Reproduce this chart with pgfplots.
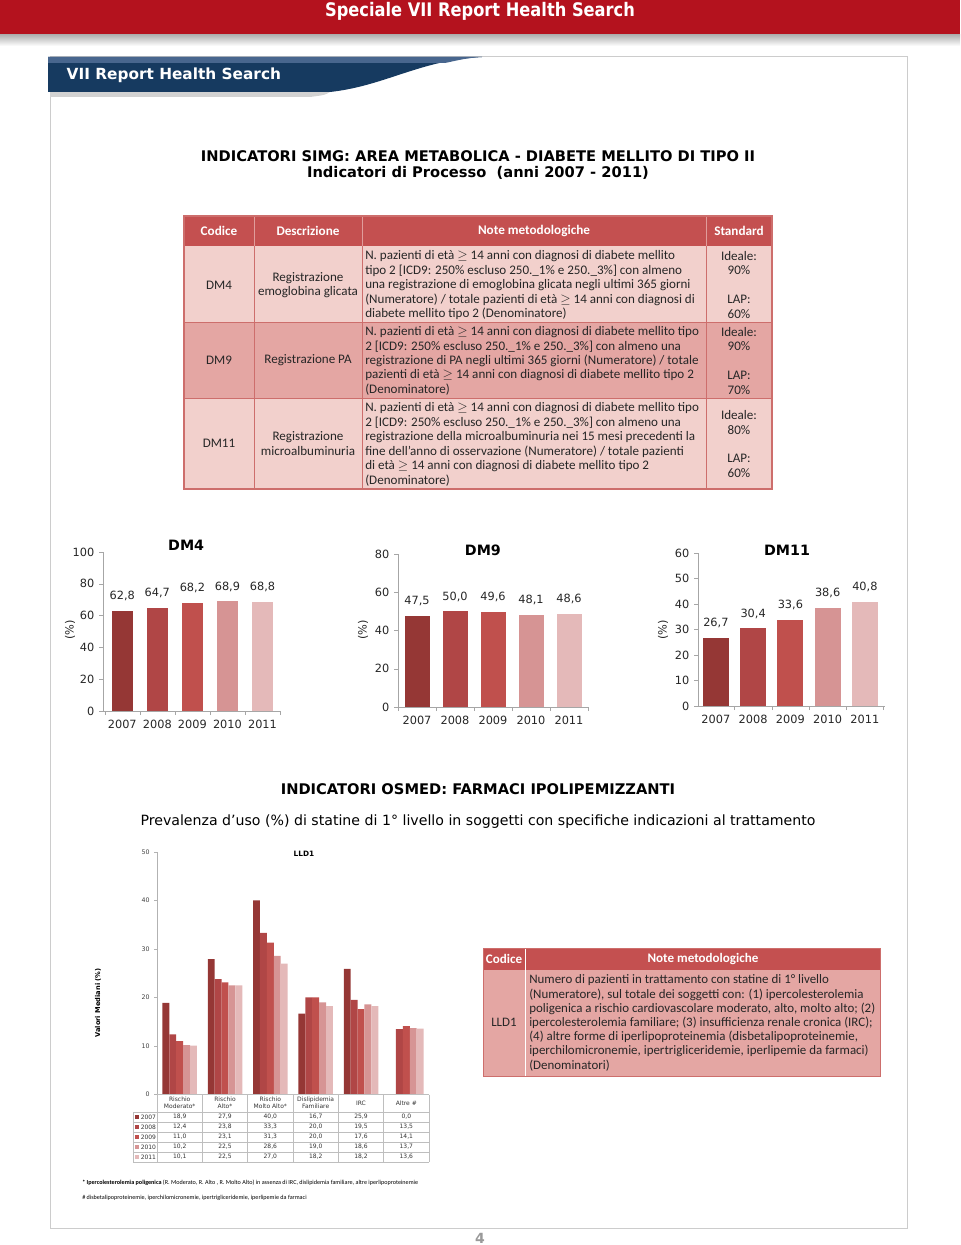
\documentclass[border=0pt]{standalone}
\usepackage{fontspec}
\usepackage{graphicx}
\usepackage{pgfplots}
\pgfplotsset{compat=1.18}
\setmainfont{DejaVu Sans}
\newfontfamily\carl{Carlito}
\definecolor{banner}{RGB}{180,18,30}
\definecolor{tabblue}{RGB}{22,58,96}
\definecolor{tabblueL}{RGB}{72,102,142}
\definecolor{hdr}{RGB}{196,80,80}
\definecolor{rowL}{RGB}{242,208,204}
\definecolor{rowD}{RGB}{228,166,163}
\definecolor{brd}{RGB}{205,110,108}
\definecolor{cA}{RGB}{149,55,53}
\definecolor{cB}{RGB}{176,70,70}
\definecolor{cC}{RGB}{192,80,77}
\definecolor{cD}{RGB}{214,148,148}
\definecolor{cE}{RGB}{228,185,185}
\definecolor{tgray}{RGB}{190,190,190}
\pgfplotsset{
  dm/.style={scale only axis, anchor=south west, ybar, bar shift=0pt,
    ymin=0, axis x line*=bottom, axis y line*=left,
    axis line style={draw=gray!70,-},
    xtick={0,1,2,3,4}, xticklabels={2007,2008,2009,2010,2011},
    major x tick style={draw=none},
    minor xtick={-0.5,0.5,1.5,2.5,3.5,4.5},
    minor x tick style={draw=gray!70},
    minor tick length=3pt, major tick length=3pt,
    tick align=outside, y tick style={draw=gray!70},
    tick label style={font=\fontsize{8.5}{10}\selectfont, text=black!85},
    /pgf/number format/assume math mode=true,
    every axis title/.style={anchor=center, font=\bfseries\fontsize{10.7}{12}\selectfont},
    nodes near coords={\pgfmathprintnumber[fixed,fixed zerofill,precision=1,use comma]{\pgfplotspointmeta}},
    every node near coord/.append style={font=\fontsize{8.5}{10}\selectfont, text=black!85, yshift=4pt},
  }
}
\newcommand\trow[9]{%
  \fill[#2] (135,#1-2) rectangle (139,#1+2);
  \node[anchor=west,inner sep=0pt] at (140.5,#1) {#3};
  \node at (179.7,#1) {#4};
  \node at (225,#1) {#5};
  \node at (270.3,#1) {#6};
  \node at (315.7,#1) {#7};
  \node at (361,#1) {#8};
  \node at (406.3,#1) {#9};}
\begin{document}
\begin{tikzpicture}[x=0.75pt,y=-0.75pt]
\path[use as bounding box] (0,0) rectangle (960,1245);
% banner
\fill[banner] (0,0) rectangle (960,35);
\shade[top color=gray!60, bottom color=white] (0,35) rectangle (960,46);
\node[white, font=\bfseries\fontsize{14}{16}\selectfont] at (480,11.5) {\scalebox{0.87}[1]{Speciale VII Report Health Search}};
% frame
\draw[gray!40, line width=0.75pt] (50,57) -- (907,57) -- (907,1228) -- (50,1228) -- cycle;
% blue tab
\fill[gray!35] (50,92) -- (330,92) .. controls (325,95) .. (310,97) -- (50,97) -- cycle;
\fill[tabblue] (48,57) -- (482,57) .. controls (420,60) and (385,86) .. (330,92) -- (48,92) -- cycle;
\fill[tabblueL] (48,57) -- (482,57) .. controls (465,58) and (455,61) .. (445,63) -- (48,63) -- cycle;
\node[white, anchor=west, font=\bfseries\fontsize{11.5}{13}\selectfont] at (62,75.5) {VII Report Health Search};
% titles
\node[font=\bfseries\fontsize{11}{13}\selectfont] at (478,156) {INDICATORI SIMG: AREA METABOLICA - DIABETE MELLITO DI TIPO II};
\node[font=\bfseries\fontsize{11}{13}\selectfont] at (478,172.5) {Indicatori di Processo\ \ (anni 2007 - 2011)};
% SIMG table
\fill[hdr] (184,216) rectangle (772,246);
\fill[rowL] (184,246) rectangle (772,322);
\fill[rowD] (184,322) rectangle (772,398);
\fill[rowL] (184,398) rectangle (772,489);
\foreach \x in {254,362,706} {\draw[rowL!60!hdr, line width=0.75pt] (\x,216) -- (\x,246); \draw[brd, line width=0.75pt] (\x,246) -- (\x,489);}
\draw[brd, line width=0.75pt] (184,322) -- (772,322) (184,398) -- (772,398);
\draw[brd, line width=1pt] (184,216) rectangle (772,489);
\begin{scope}[font=\carl\bfseries\fontsize{9.9}{12}\selectfont, text=white]
\node at (219,231) {Codice};
\node at (308,231) {Descrizione};
\node at (534,231) {Note metodologiche};
\node at (739,231) {Standard};
\end{scope}
\begin{scope}[font=\carl\fontsize{9.8}{12}\selectfont, text=black!85, inner sep=0pt]
\node at (219,285) {DM4};
\node at (219,360) {DM9};
\node at (219,443) {DM11};
\node at (308,278) {Registrazione};
\node at (308,292) {emoglobina glicata};
\node at (308,360) {Registrazione PA};
\node at (308,437) {Registrazione};
\node at (308,451) {microalbuminuria};
\foreach \t/\y in {Ideale:/256,90\%/270.5,LAP:/299.5,60\%/314,Ideale:/332,90\%/346.5,LAP:/375.5,70\%/390,Ideale:/415,80\%/430,LAP:/458,60\%/473} \node at (739,\y) {\t};
\begin{scope}[every node/.style={anchor=west}]
\node at (365,256) {N. pazienti di età $\geq$ 14 anni con diagnosi di diabete mellito};
\node at (365,270.5) {tipo 2 [ICD9: 250\% escluso 250.\_1\% e 250.\_3\%] con almeno};
\node at (365,285) {una registrazione di emoglobina glicata negli ultimi 365 giorni};
\node at (365,299.5) {(Numeratore) / totale pazienti di età $\geq$ 14 anni con diagnosi di};
\node at (365,314) {diabete mellito tipo 2 (Denominatore)};
\node at (365,332) {N. pazienti di età $\geq$ 14 anni con diagnosi di diabete mellito tipo};
\node at (365,346.5) {2 [ICD9: 250\% escluso 250.\_1\% e 250.\_3\%] con almeno una};
\node at (365,361) {registrazione di PA negli ultimi 365 giorni (Numeratore) / totale};
\node at (365,375.5) {pazienti di età $\geq$ 14 anni con diagnosi di diabete mellito tipo 2};
\node at (365,390) {(Denominatore)};
\node at (365,408) {N. pazienti di età $\geq$ 14 anni con diagnosi di diabete mellito tipo};
\node at (365,422.5) {2 [ICD9: 250\% escluso 250.\_1\% e 250.\_3\%] con almeno una};
\node at (365,437) {registrazione della microalbuminuria nei 15 mesi precedenti la};
\node at (365,451.5) {fine dell’anno di osservazione (Numeratore) / totale pazienti};
\node at (365,466) {di età $\geq$ 14 anni con diagnosi di diabete mellito tipo 2};
\node at (365,480.5) {(Denominatore)};
\end{scope}
\end{scope}
% DM4
\begin{axis}[dm, at={({103*0.75pt},{-711*0.75pt})}, width=132.75pt, height=119.25pt,
  xmin=-0.55, xmax=4.5, ymax=100, ytick={0,20,40,60,80,100}, bar width=15.75pt,
  title={DM4}, title style={at={(axis description cs:0.47,1.044)}}]
\addplot[fill=cA, draw=none] coordinates {(0,62.8)};
\addplot[fill=cB, draw=none] coordinates {(1,64.7)};
\addplot[fill=cC, draw=none] coordinates {(2,68.2)};
\addplot[fill=cD, draw=none] coordinates {(3,68.9)};
\addplot[fill=cE, draw=none] coordinates {(4,68.8)};
\end{axis}
% DM9
\begin{axis}[dm, at={({398*0.75pt},{-707*0.75pt})}, width=142.5pt, height=114.75pt,
  xmin=-0.5, xmax=4.5, ymax=80, ytick={0,20,40,60,80}, bar width=18.75pt,
  title={DM9}, title style={at={(axis description cs:0.447,1.026)}}]
\addplot[fill=cA, draw=none] coordinates {(0,47.5)};
\addplot[fill=cB, draw=none] coordinates {(1,50.0)};
\addplot[fill=cC, draw=none] coordinates {(2,49.6)};
\addplot[fill=cD, draw=none] coordinates {(3,48.1)};
\addplot[fill=cE, draw=none] coordinates {(4,48.6)};
\end{axis}
% DM11
\begin{axis}[dm, at={({698*0.75pt},{-706*0.75pt})}, width=140.25pt, height=114.75pt,
  xmin=-0.48, xmax=4.54, ymax=60, ytick={0,10,20,30,40,50,60}, bar width=19.5pt,
  title={DM11}, title style={at={(axis description cs:0.476,1.02)}}]
\addplot[fill=cA, draw=none] coordinates {(0,26.7)};
\addplot[fill=cB, draw=none] coordinates {(1,30.4)};
\addplot[fill=cC, draw=none] coordinates {(2,33.6)};
\addplot[fill=cD, draw=none] coordinates {(3,38.6)};
\addplot[fill=cE, draw=none] coordinates {(4,40.8)};
\end{axis}
\foreach \x in {70,363,663} \node[rotate=90, font=\fontsize{8.5}{10}\selectfont, text=black!85] at (\x,630) {(\%)};
% OSMED
\node[font=\bfseries\fontsize{11}{13}\selectfont] at (478,789) {INDICATORI OSMED: FARMACI IPOLIPEMIZZANTI};
\node[font=\fontsize{10.6}{12}\selectfont] at (478,822) {Prevalenza d’uso (\%) di statine di 1° livello in soggetti con specifiche indicazioni al trattamento};
% LLD1 chart
\begin{axis}[scale only axis, anchor=south west, at={({157*0.75pt},{-1094.5*0.75pt})},
  width=204pt, height=181.9pt, ybar=0pt, bar width=5.175pt,
  xmin=-0.5, xmax=5.5, ymin=0, ymax=50, ytick={0,10,20,30,40,50}, xtick=\empty,
  axis x line*=bottom, axis y line*=left, axis line style={draw=gray!60,-},
  tick align=outside, major tick length=2pt, y tick style={draw=gray!60},
  tick label style={font=\fontsize{4.7}{5.5}\selectfont, text=black!75},
  /pgf/number format/assume math mode=true]
\addplot[fill=cA, draw=none] coordinates {(0,18.9) (1,27.9) (2,40.0) (3,16.7) (4,25.9) (5,0.0)};
\addplot[fill=cB, draw=none] coordinates {(0,12.4) (1,23.8) (2,33.3) (3,20.0) (4,19.5) (5,13.5)};
\addplot[fill=cC, draw=none] coordinates {(0,11.0) (1,23.1) (2,31.3) (3,20.0) (4,17.6) (5,14.1)};
\addplot[fill=cD, draw=none] coordinates {(0,10.2) (1,22.5) (2,28.6) (3,19.0) (4,18.6) (5,13.7)};
\addplot[fill=cE, draw=none] coordinates {(0,10.1) (1,22.5) (2,27.0) (3,18.2) (4,18.2) (5,13.6)};
\end{axis}
\node[font=\bfseries\fontsize{5.5}{6}\selectfont] at (304,854) {LLD1};
\node[rotate=90, font=\bfseries\fontsize{5}{6}\selectfont] at (98,1003) {Valori Mediani (\%)};
% LLD1 data table
\foreach \k in {0,...,6} \draw[tgray, line width=0.5pt] ({157+45.33*\k},1094.5) -- ({157+45.33*\k},1162);
\draw[tgray, line width=0.5pt] (133,1112) -- (133,1162);
\foreach \y in {1112,1122,1132,1142,1152,1162} \draw[tgray, line width=0.5pt] (133,\y) -- (429,\y);
\draw[tgray, line width=0.5pt] (157,1094.5) -- (429,1094.5);
\begin{scope}[font=\fontsize{4.5}{5.3}\selectfont, text=black!80, every node/.append style={align=center, inner sep=0pt}]
\node at (179.7,1103) {Rischio\\Moderato*};
\node at (225,1103) {Rischio\\Alto*};
\node at (270.3,1103) {Rischio\\Molto Alto*};
\node at (315.7,1103) {Dislipidemia\\Familiare};
\node at (361,1103) {IRC};
\node at (406.3,1103) {Altre \#};
\trow{1117}{cA}{2007}{18,9}{27,9}{40,0}{16,7}{25,9}{0,0}
\trow{1127}{cB}{2008}{12,4}{23,8}{33,3}{20,0}{19,5}{13,5}
\trow{1137}{cC}{2009}{11,0}{23,1}{31,3}{20,0}{17,6}{14,1}
\trow{1147}{cD}{2010}{10,2}{22,5}{28,6}{19,0}{18,6}{13,7}
\trow{1157}{cE}{2011}{10,1}{22,5}{27,0}{18,2}{18,2}{13,6}
\end{scope}
% LLD1 note table
\fill[hdr] (483,948) rectangle (880,970);
\fill[rowD] (483,970) rectangle (880,1076);
\draw[white, line width=0.75pt] (525,948) -- (525,1076);
\draw[brd, line width=0.75pt] (483,948) rectangle (880,1076);
\node[font=\carl\bfseries\fontsize{9.8}{12}\selectfont, text=white] at (504,959) {Codice};
\node[font=\carl\bfseries\fontsize{9.8}{12}\selectfont, text=white] at (703,959) {Note metodologiche};
\begin{scope}[font=\carl\fontsize{9.7}{12}\selectfont, text=black!85, inner sep=0pt]
\node at (504,1022) {LLD1};
\begin{scope}[every node/.style={anchor=west}]
\node at (529,980) {Numero di pazienti in trattamento con statine di 1° livello};
\node at (529,994.5) {(Numeratore), sul totale dei soggetti con: (1) ipercolesterolemia};
\node at (529,1008.5) {poligenica a rischio cardiovascolare moderato, alto, molto alto; (2)};
\node at (529,1022.5) {ipercolesterolemia familiare; (3) insufficienza renale cronica (IRC);};
\node at (529,1037) {(4) altre forme di iperlipoproteinemia (disbetalipoproteinemie,};
\node at (529,1051) {iperchilomicronemie, ipertrigliceridemie, iperlipemie da farmaci)};
\node at (529,1066) {(Denominatori)};
\end{scope}
\end{scope}
% footnotes
\node[anchor=west, inner sep=0pt, font=\carl\fontsize{4.6}{5}\selectfont] at (82,1183) {\textbf{* Ipercolesterolemia poligenica} (R. Moderato, R. Alto , R. Molto Alto) in assenza di IRC, dislipidemia familiare, altre iperlipoproteinemie};
\node[anchor=west, inner sep=0pt, font=\carl\fontsize{4.6}{5}\selectfont] at (82,1198) {\# disbetalipoproteinemie, iperchilomicronemie, ipertrigliceridemie, iperlipemie da farmaci};
\node[font=\bfseries\fontsize{10.5}{12}\selectfont, text=gray!80] at (480,1238) {4};
\end{tikzpicture}
\end{document}
